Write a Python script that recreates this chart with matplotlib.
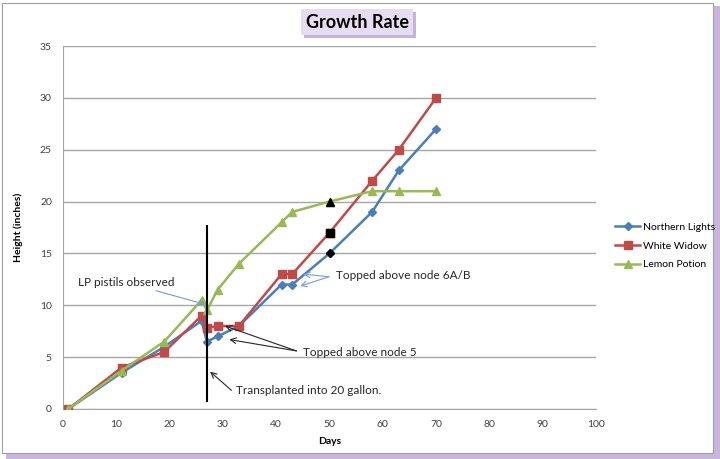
import matplotlib
matplotlib.use("Agg")
import matplotlib.pyplot as plt
import matplotlib.patheffects as pe
from matplotlib.patches import Rectangle

plt.rcParams['font.family'] = ['Lato', 'DejaVu Sans']

# growth data
days = [1, 11, 19, 26, 27, 29, 33, 41, 43, 50, 58, 63, 70]
northern_lights = [0, 3.5, 6, 8.5, 6.5, 7, 8, 12, 12, 15, 19, 23, 27]
white_widow = [0, 4, 5.5, 9, 7.8, 8, 8, 13, 13, 17, 22, 25, 30]
lemon_days = [1, 11, 19, 26, 27, 29, 33, 41, 43, 50, 58, 63, 70]
lemon_potion = [0, 3.7, 6.5, 10.5, 9.5, 11.5, 14, 18, 19, 20, 21, 21, 21]
highlight_day = 50
transplant_day = 27
transplant_span = (0.7, 17.7)

x_ticks = list(range(0, 101, 10))
y_ticks = list(range(0, 36, 5))

fig = plt.figure(figsize=(7.2, 4.59), dpi=100)

# chart area with purple shadow
fig.patches.append(Rectangle((6 / 720, 0), 714 / 720, 1 - 6 / 459, transform=fig.transFigure,
                             facecolor='#c8b6dc', edgecolor='none', zorder=-2))
fig.patches.append(Rectangle((2 / 720, 6 / 459), 711 / 720, 1 - 9 / 459, transform=fig.transFigure,
                             facecolor='white', edgecolor='#a0a0a0', linewidth=0.8, zorder=-1))

ax = fig.add_axes([63 / 720, 1 - 409 / 459, 533 / 720, 363 / 459])
ax.set_facecolor('none')

series = [
    ('Northern Lights', days, northern_lights, '#4a7ebb', 'D', 4.5),
    ('White Widow', days, white_widow, '#be4b48', 's', 6),
    ('Lemon Potion', lemon_days, lemon_potion, '#98b954', '^', 6),
]
for name, xs, ys, col, mk, ms in series:
    ax.plot(xs, ys, color=col, marker=mk, markersize=ms, linewidth=1.8, label=name, zorder=3)
    i = xs.index(highlight_day)
    ax.plot([xs[i]], [ys[i]], linestyle='none', marker=mk, markersize=ms,
            color='black', zorder=4)

ax.vlines(transplant_day, transplant_span[0], transplant_span[1], color='black', linewidth=1.5, zorder=5)

ax.set_xlim(0, 100)
ax.set_ylim(0, 35)
ax.set_xticks(x_ticks)
ax.set_yticks(y_ticks)
ax.tick_params(length=0, labelsize=7.5, colors='#404040', pad=8)
ax.grid(axis='y', color='#a6a6a6', linewidth=1)
ax.set_axisbelow(True)
for s in ['top', 'right']:
    ax.spines[s].set_visible(False)
for s in ['left', 'bottom']:
    ax.spines[s].set_color('#a6a6a6')

ax.set_xlabel('Days', fontsize=7.5, fontweight='bold', labelpad=6)
ax.set_ylabel('Height (inches)', fontsize=7.5, fontweight='bold', labelpad=12)

# annotations
ax.annotate('LP pistils observed', xy=(26.6, 10.1), xytext=(2.8, 12.2), fontsize=8.5,
            color='#262626', va='center',
            arrowprops=dict(arrowstyle='->', color='#6fa0d8', lw=0.8, shrinkA=46, shrinkB=0))
for tip in [(45.1, 13.0), (44.5, 11.85)]:
    ax.annotate('', xy=tip, xytext=(49.9, 12.75),
                arrowprops=dict(arrowstyle='->', color='#6fa0d8', lw=0.8, shrinkA=0, shrinkB=0))
ax.text(51.3, 12.9, 'Topped above node 6A/B', fontsize=8.5, color='#262626', va='center')
for tip in [(30.4, 8.0), (31.2, 6.7)]:
    ax.annotate('', xy=tip, xytext=(43.8, 5.6),
                arrowprops=dict(arrowstyle='->', color='#262626', lw=0.8, shrinkA=0, shrinkB=0))
ax.text(45, 5.4, 'Topped above node 5', fontsize=8.5, color='#262626', va='center')
ax.annotate('', xy=(27.6, 3.6), xytext=(31.6, 1.8),
            arrowprops=dict(arrowstyle='->', color='#262626', lw=0.8, shrinkA=0, shrinkB=0))
ax.text(32.5, 1.8, 'Transplanted into 20 gallon.', fontsize=8.5, color='#262626', va='center')

ax.legend(loc='center left', bbox_to_anchor=(608 / 720, 1 - 246 / 459), bbox_transform=fig.transFigure,
          frameon=False, fontsize=7.5, handlelength=2.4, labelspacing=0.9, handletextpad=0.3,
          borderpad=0.2)

# title with shaded box
title = fig.text(357 / 720, 1 - 22 / 459, 'Growth Rate', ha='center', va='center', fontsize=13,
                 fontweight='bold', color='black',
                 bbox=dict(boxstyle='square,pad=0.25', facecolor='#e6def0', edgecolor='none'))
title.get_bbox_patch().set_path_effects([
    pe.SimplePatchShadow(offset=(2, -2), shadow_rgbFace='#c4b4da', alpha=1), pe.Normal()])

fig.savefig('out.png', dpi=100)
